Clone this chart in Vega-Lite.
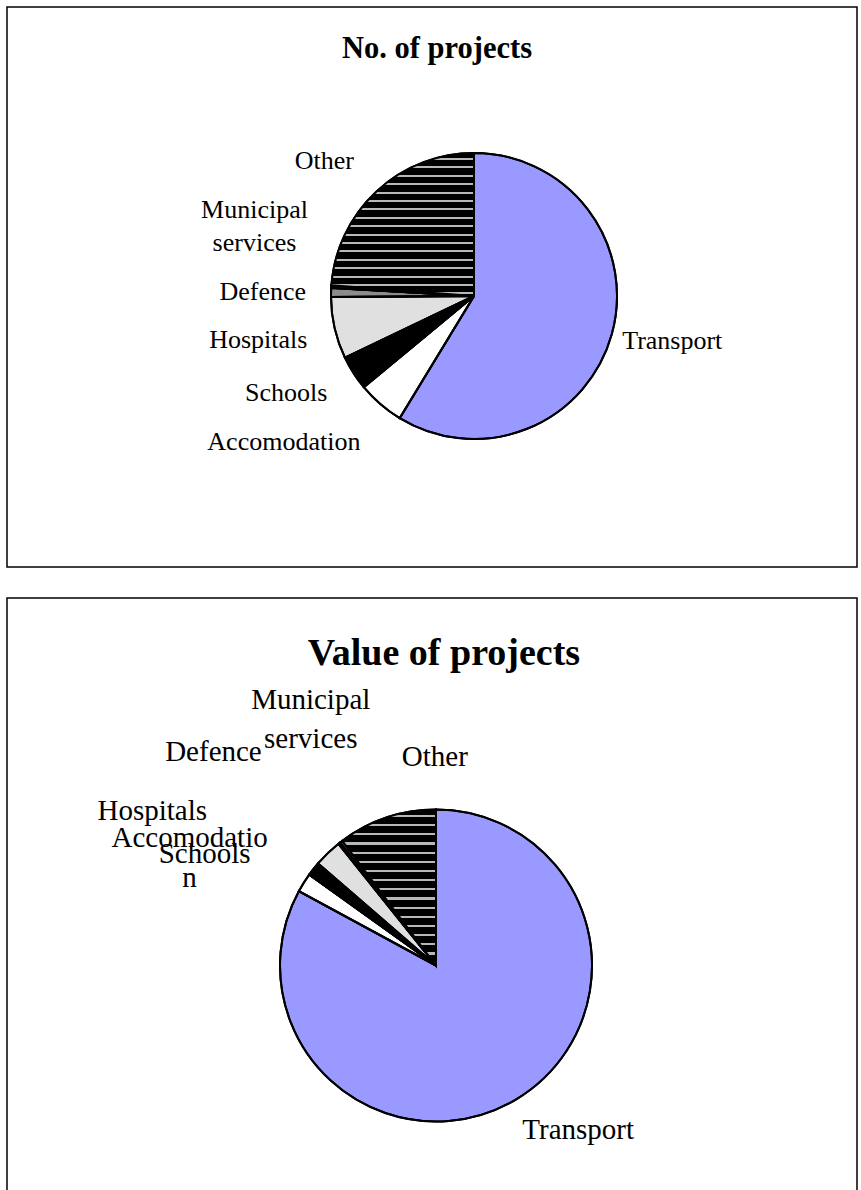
{
  "$schema": "https://vega.github.io/schema/vega-lite/v6.json",
  "padding": {"left": 6, "top": 6, "right": 3, "bottom": 0},
  "background": "white",
  "spacing": 29,
  "config": {
    "view": {"stroke": "black", "strokeWidth": 1.5},
    "style": {"view": {"stroke": "black", "strokeWidth": 1.5}, "cell": {"stroke": "black", "strokeWidth": 1.5}},
    "font": "Liberation Serif",
    "text": {"font": "Liberation Serif", "color": "black", "baseline": "alphabetic"}
  },
  "vconcat": [
    {
      "width": 850,
      "height": 560,
      "view": {"stroke": "black", "strokeWidth": 1.5},
      "title": {"text": "No. of projects", "fontSize": 30.5, "fontWeight": "bold", "font": "Liberation Serif", "anchor": "middle", "frame": "group", "offset": -52, "baseline": "alphabetic", "dx": 5, "dy": 29, "color": "black"},
      "data": {"values": [
        {"category": "Transport", "value": 58.7, "idx": 1},
        {"category": "Accomodation", "value": 5.3, "idx": 2},
        {"category": "Schools", "value": 3.9, "idx": 3},
        {"category": "Hospitals", "value": 7.0, "idx": 4},
        {"category": "Defence", "value": 1.0, "idx": 5},
        {"category": "Municipal services", "value": 0.3, "idx": 6},
        {"category": "Other", "value": 23.8, "idx": 7}
      ]},
      "encoding": {
        "theta": {"field": "value", "type": "quantitative", "stack": true},
        "order": {"field": "idx", "type": "quantitative"},
        "detail": {"field": "category", "type": "nominal"}
      },
      "layer": [
        {"mark": {"type": "arc", "outerRadius": 143, "xOffset": 42, "yOffset": 9, "stroke": "black", "strokeWidth": 2},
         "encoding": {"color": {"field": "category", "type": "nominal", "legend": null,
           "scale": {"domain": ["Transport", "Accomodation", "Schools", "Hospitals", "Defence", "Municipal services", "Other"],
                     "range": ["#9999FF", "#FFFFFF", "#000000", "#E0E0E0", "#8C8C8C", "#800080", "#333333"]}}}},
        {"mark": {"type": "arc", "outerRadius": 143, "xOffset": 42, "yOffset": 9, "stroke": "black", "strokeWidth": 2},
         "encoding": {"fill": {"condition": {"test": "datum.category === 'Other'", "value": {"gradient": "linear", "x1": 0, "y1": 0, "x2": 0, "y2": 1, "stops": [
           {"offset": 0, "color": "#000000"},
           {"offset": 0.034, "color": "#000000"}, {"offset": 0.034, "color": "#b8b8b8"}, {"offset": 0.048, "color": "#b8b8b8"}, {"offset": 0.048, "color": "#000000"},
           {"offset": 0.0928, "color": "#000000"}, {"offset": 0.0928, "color": "#b8b8b8"}, {"offset": 0.1068, "color": "#b8b8b8"}, {"offset": 0.1068, "color": "#000000"},
           {"offset": 0.1516, "color": "#000000"}, {"offset": 0.1516, "color": "#b8b8b8"}, {"offset": 0.1656, "color": "#b8b8b8"}, {"offset": 0.1656, "color": "#000000"},
           {"offset": 0.2105, "color": "#000000"}, {"offset": 0.2105, "color": "#b8b8b8"}, {"offset": 0.2245, "color": "#b8b8b8"}, {"offset": 0.2245, "color": "#000000"},
           {"offset": 0.2693, "color": "#000000"}, {"offset": 0.2693, "color": "#b8b8b8"}, {"offset": 0.2833, "color": "#b8b8b8"}, {"offset": 0.2833, "color": "#000000"},
           {"offset": 0.3281, "color": "#000000"}, {"offset": 0.3281, "color": "#b8b8b8"}, {"offset": 0.3421, "color": "#b8b8b8"}, {"offset": 0.3421, "color": "#000000"},
           {"offset": 0.3869, "color": "#000000"}, {"offset": 0.3869, "color": "#b8b8b8"}, {"offset": 0.4009, "color": "#b8b8b8"}, {"offset": 0.4009, "color": "#000000"},
           {"offset": 0.4458, "color": "#000000"}, {"offset": 0.4458, "color": "#b8b8b8"}, {"offset": 0.4598, "color": "#b8b8b8"}, {"offset": 0.4598, "color": "#000000"},
           {"offset": 0.5046, "color": "#000000"}, {"offset": 0.5046, "color": "#b8b8b8"}, {"offset": 0.5186, "color": "#b8b8b8"}, {"offset": 0.5186, "color": "#000000"},
           {"offset": 0.5634, "color": "#000000"}, {"offset": 0.5634, "color": "#b8b8b8"}, {"offset": 0.5774, "color": "#b8b8b8"}, {"offset": 0.5774, "color": "#000000"},
           {"offset": 0.6222, "color": "#000000"}, {"offset": 0.6222, "color": "#b8b8b8"}, {"offset": 0.6362, "color": "#b8b8b8"}, {"offset": 0.6362, "color": "#000000"},
           {"offset": 0.6811, "color": "#000000"}, {"offset": 0.6811, "color": "#b8b8b8"}, {"offset": 0.6951, "color": "#b8b8b8"}, {"offset": 0.6951, "color": "#000000"},
           {"offset": 0.7399, "color": "#000000"}, {"offset": 0.7399, "color": "#b8b8b8"}, {"offset": 0.7539, "color": "#b8b8b8"}, {"offset": 0.7539, "color": "#000000"},
           {"offset": 0.7987, "color": "#000000"}, {"offset": 0.7987, "color": "#b8b8b8"}, {"offset": 0.8127, "color": "#b8b8b8"}, {"offset": 0.8127, "color": "#000000"},
           {"offset": 0.8575, "color": "#000000"}, {"offset": 0.8575, "color": "#b8b8b8"}, {"offset": 0.8715, "color": "#b8b8b8"}, {"offset": 0.8715, "color": "#000000"},
           {"offset": 0.9164, "color": "#000000"}, {"offset": 0.9164, "color": "#b8b8b8"}, {"offset": 0.9304, "color": "#b8b8b8"}, {"offset": 0.9304, "color": "#000000"},
           {"offset": 0.9752, "color": "#000000"}, {"offset": 0.9752, "color": "#b8b8b8"}, {"offset": 0.9892, "color": "#b8b8b8"}, {"offset": 0.9892, "color": "#000000"},
           {"offset": 1, "color": "#000000"}
         ]}}, "value": null}}},
        {"mark": {"type": "text", "radius": 157, "xOffset": 42, "yOffset": 9, "dx": -3, "dy": 11, "align": "left", "fontSize": 26},
         "encoding": {"text": {"condition": {"test": "datum.category === 'Transport'", "field": "category", "type": "nominal"}, "value": ""}}},
        {"mark": {"type": "text", "radius": 192, "xOffset": 42, "yOffset": 9, "dx": 12, "dy": 9, "align": "right", "fontSize": 26},
         "encoding": {"text": {"condition": {"test": "datum.category === 'Accomodation'", "field": "category", "type": "nominal"}, "value": ""}}},
        {"mark": {"type": "text", "radius": 180, "xOffset": 42, "yOffset": 9, "dx": 5, "dy": 8, "align": "right", "fontSize": 26},
         "encoding": {"text": {"condition": {"test": "datum.category === 'Schools'", "field": "category", "type": "nominal"}, "value": ""}}},
        {"mark": {"type": "text", "radius": 174, "xOffset": 42, "yOffset": 9, "dx": 3, "dy": 13, "align": "right", "fontSize": 26},
         "encoding": {"text": {"condition": {"test": "datum.category === 'Hospitals'", "field": "category", "type": "nominal"}, "value": ""}}},
        {"mark": {"type": "text", "radius": 168, "xOffset": 42, "yOffset": 9, "dx": 0, "dy": 8, "align": "right", "fontSize": 26},
         "encoding": {"text": {"condition": {"test": "datum.category === 'Defence'", "field": "category", "type": "nominal"}, "value": ""}}},
        {"mark": {"type": "text", "radius": 220, "xOffset": 42, "yOffset": 9, "dx": 0, "dy": -63, "align": "center", "fontSize": 26, "lineBreak": " ", "lineHeight": 33},
         "encoding": {"text": {"condition": {"test": "datum.category === 'Municipal services'", "field": "category", "type": "nominal"}, "value": ""}}},
        {"mark": {"type": "text", "radius": 175, "xOffset": 42, "yOffset": 9, "dx": -1, "dy": 1, "align": "right", "fontSize": 26},
         "encoding": {"text": {"condition": {"test": "datum.category === 'Other'", "field": "category", "type": "nominal"}, "value": ""}}}
      ]
    },
    {
      "width": 850,
      "height": 595,
      "view": {"stroke": "black", "strokeWidth": 1.5},
      "title": {"text": "Value of projects", "fontSize": 38, "fontWeight": "bold", "font": "Liberation Serif", "anchor": "middle", "frame": "group", "offset": -70, "baseline": "alphabetic", "dx": 12, "dy": 35, "color": "black"},
      "data": {"values": [
        {"category": "Transport", "value": 82.9, "idx": 1},
        {"category": "Accomodation", "value": 2.0, "idx": 2},
        {"category": "Schools", "value": 1.45, "idx": 3},
        {"category": "Hospitals", "value": 2.9, "idx": 4},
        {"category": "Defence", "value": 0.2, "idx": 5},
        {"category": "Municipal services", "value": 0.3, "idx": 6},
        {"category": "Other", "value": 10.25, "idx": 7}
      ]},
      "encoding": {
        "theta": {"field": "value", "type": "quantitative", "stack": true},
        "order": {"field": "idx", "type": "quantitative"},
        "detail": {"field": "category", "type": "nominal"}
      },
      "layer": [
        {"mark": {"type": "arc", "outerRadius": 156, "xOffset": 4, "yOffset": 70, "stroke": "black", "strokeWidth": 2},
         "encoding": {"color": {"field": "category", "type": "nominal", "legend": null,
           "scale": {"domain": ["Transport", "Accomodation", "Schools", "Hospitals", "Defence", "Municipal services", "Other"],
                     "range": ["#9999FF", "#FFFFFF", "#000000", "#E0E0E0", "#8C8C8C", "#800080", "#333333"]}}}},
        {"mark": {"type": "arc", "outerRadius": 156, "xOffset": 4, "yOffset": 70, "stroke": "black", "strokeWidth": 2},
         "encoding": {"fill": {"condition": {"test": "datum.category === 'Other'", "value": {"gradient": "linear", "x1": 0, "y1": 0, "x2": 0, "y2": 1, "stops": [
           {"offset": 0, "color": "#000000"},
           {"offset": 0.034, "color": "#000000"}, {"offset": 0.034, "color": "#b8b8b8"}, {"offset": 0.048, "color": "#b8b8b8"}, {"offset": 0.048, "color": "#000000"},
           {"offset": 0.0928, "color": "#000000"}, {"offset": 0.0928, "color": "#b8b8b8"}, {"offset": 0.1068, "color": "#b8b8b8"}, {"offset": 0.1068, "color": "#000000"},
           {"offset": 0.1516, "color": "#000000"}, {"offset": 0.1516, "color": "#b8b8b8"}, {"offset": 0.1656, "color": "#b8b8b8"}, {"offset": 0.1656, "color": "#000000"},
           {"offset": 0.2105, "color": "#000000"}, {"offset": 0.2105, "color": "#b8b8b8"}, {"offset": 0.2245, "color": "#b8b8b8"}, {"offset": 0.2245, "color": "#000000"},
           {"offset": 0.2693, "color": "#000000"}, {"offset": 0.2693, "color": "#b8b8b8"}, {"offset": 0.2833, "color": "#b8b8b8"}, {"offset": 0.2833, "color": "#000000"},
           {"offset": 0.3281, "color": "#000000"}, {"offset": 0.3281, "color": "#b8b8b8"}, {"offset": 0.3421, "color": "#b8b8b8"}, {"offset": 0.3421, "color": "#000000"},
           {"offset": 0.3869, "color": "#000000"}, {"offset": 0.3869, "color": "#b8b8b8"}, {"offset": 0.4009, "color": "#b8b8b8"}, {"offset": 0.4009, "color": "#000000"},
           {"offset": 0.4458, "color": "#000000"}, {"offset": 0.4458, "color": "#b8b8b8"}, {"offset": 0.4598, "color": "#b8b8b8"}, {"offset": 0.4598, "color": "#000000"},
           {"offset": 0.5046, "color": "#000000"}, {"offset": 0.5046, "color": "#b8b8b8"}, {"offset": 0.5186, "color": "#b8b8b8"}, {"offset": 0.5186, "color": "#000000"},
           {"offset": 0.5634, "color": "#000000"}, {"offset": 0.5634, "color": "#b8b8b8"}, {"offset": 0.5774, "color": "#b8b8b8"}, {"offset": 0.5774, "color": "#000000"},
           {"offset": 0.6222, "color": "#000000"}, {"offset": 0.6222, "color": "#b8b8b8"}, {"offset": 0.6362, "color": "#b8b8b8"}, {"offset": 0.6362, "color": "#000000"},
           {"offset": 0.6811, "color": "#000000"}, {"offset": 0.6811, "color": "#b8b8b8"}, {"offset": 0.6951, "color": "#b8b8b8"}, {"offset": 0.6951, "color": "#000000"},
           {"offset": 0.7399, "color": "#000000"}, {"offset": 0.7399, "color": "#b8b8b8"}, {"offset": 0.7539, "color": "#b8b8b8"}, {"offset": 0.7539, "color": "#000000"},
           {"offset": 0.7987, "color": "#000000"}, {"offset": 0.7987, "color": "#b8b8b8"}, {"offset": 0.8127, "color": "#b8b8b8"}, {"offset": 0.8127, "color": "#000000"},
           {"offset": 0.8575, "color": "#000000"}, {"offset": 0.8575, "color": "#b8b8b8"}, {"offset": 0.8715, "color": "#b8b8b8"}, {"offset": 0.8715, "color": "#000000"},
           {"offset": 0.9164, "color": "#000000"}, {"offset": 0.9164, "color": "#b8b8b8"}, {"offset": 0.9304, "color": "#b8b8b8"}, {"offset": 0.9304, "color": "#000000"},
           {"offset": 0.9752, "color": "#000000"}, {"offset": 0.9752, "color": "#b8b8b8"}, {"offset": 0.9892, "color": "#b8b8b8"}, {"offset": 0.9892, "color": "#000000"},
           {"offset": 1, "color": "#000000"}
         ]}}, "value": null}}},
        {"mark": {"type": "text", "radius": 194, "xOffset": 4, "yOffset": 70, "dx": -13, "dy": 7, "align": "left", "fontSize": 29},
         "encoding": {"text": {"condition": {"test": "datum.category === 'Transport'", "field": "category", "type": "nominal"}, "value": ""}}},
        {"mark": {"type": "text", "radius": 273, "xOffset": 4, "yOffset": 70, "dx": -15, "dy": 26, "align": "center", "fontSize": 29, "lineHeight": 40},
         "encoding": {"text": {"condition": {"test": "datum.category === 'Accomodation'", "value": ["Accomodatio", "n"]}, "value": ""}}},
        {"mark": {"type": "text", "radius": 212, "xOffset": 4, "yOffset": 70, "dx": -19, "dy": 29, "align": "right", "fontSize": 29},
         "encoding": {"text": {"condition": {"test": "datum.category === 'Schools'", "field": "category", "type": "nominal"}, "value": ""}}},
        {"mark": {"type": "text", "radius": 271, "xOffset": 4, "yOffset": 70, "dx": -41, "dy": 50, "align": "right", "fontSize": 29},
         "encoding": {"text": {"condition": {"test": "datum.category === 'Hospitals'", "field": "category", "type": "nominal"}, "value": ""}}},
        {"mark": {"type": "text", "radius": 268, "xOffset": 4, "yOffset": 70, "dx": -8, "dy": 6, "align": "right", "fontSize": 29},
         "encoding": {"text": {"condition": {"test": "datum.category === 'Defence'", "field": "category", "type": "nominal"}, "value": ""}}},
        {"mark": {"type": "text", "radius": 285, "xOffset": 4, "yOffset": 70, "dx": 48, "dy": -30, "align": "center", "fontSize": 29, "lineBreak": " ", "lineHeight": 39},
         "encoding": {"text": {"condition": {"test": "datum.category === 'Municipal services'", "field": "category", "type": "nominal"}, "value": ""}}},
        {"mark": {"type": "text", "radius": 203, "xOffset": 4, "yOffset": 70, "dx": 30, "dy": -7, "align": "left", "fontSize": 29},
         "encoding": {"text": {"condition": {"test": "datum.category === 'Other'", "field": "category", "type": "nominal"}, "value": ""}}}
      ]
    }
  ]
}
